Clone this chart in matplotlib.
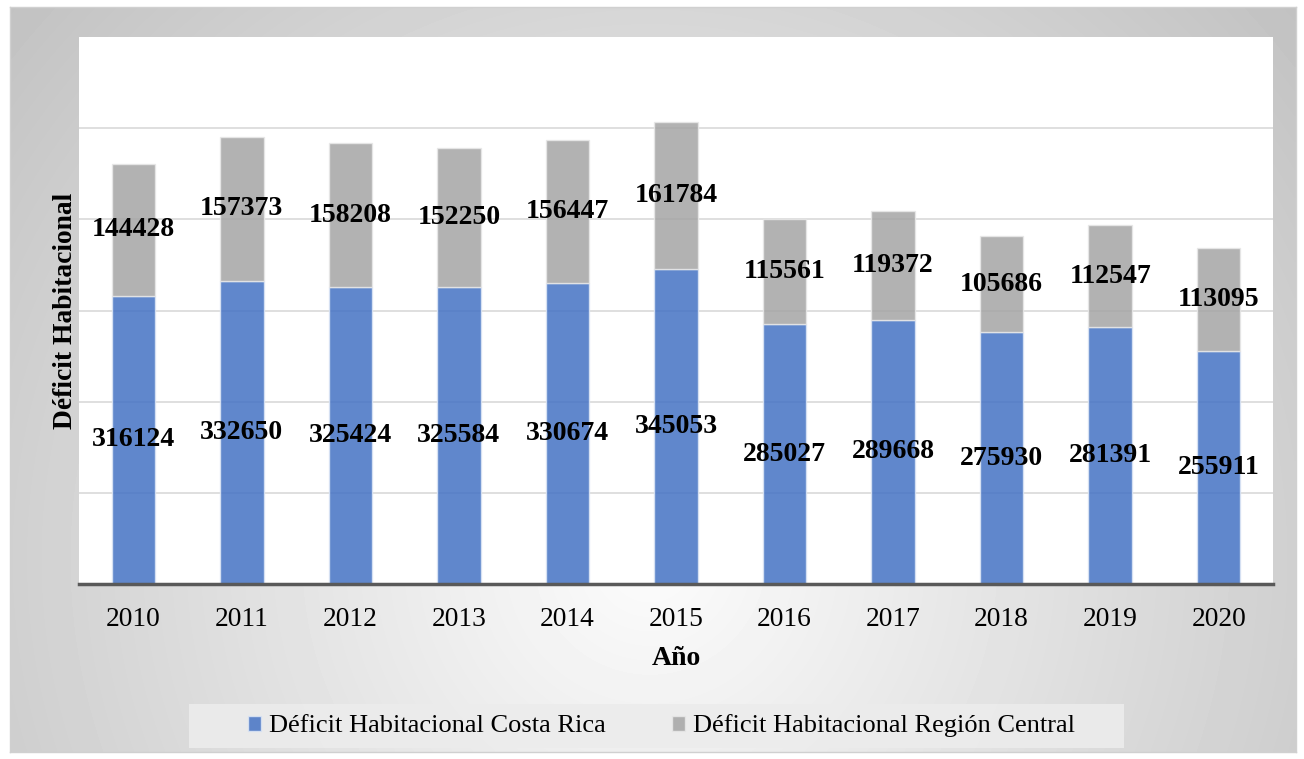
import numpy as np
import matplotlib
matplotlib.use("Agg")
import matplotlib.pyplot as plt
from matplotlib.patches import Rectangle

plt.rcParams["font.family"] = ["Liberation Serif", "DejaVu Serif"]

years = ["2010", "2011", "2012", "2013", "2014", "2015", "2016", "2017", "2018", "2019", "2020"]
costa_rica = [316124, 332650, 325424, 325584, 330674, 345053, 285027, 289668, 275930, 281391, 255911]
region_central = [144428, 157373, 158208, 152250, 156447, 161784, 115561, 119372, 105686, 112547, 113095]

W, H = 1304, 759
fig = plt.figure(figsize=(W / 100, H / 100), dpi=100)
fig.patch.set_facecolor("white")

# gray radial background for the chart box
bg = fig.add_axes([10 / W, 1 - 752 / H, 1286 / W, 745 / H], zorder=-10)
xx, yy = np.meshgrid(np.linspace(10, 1296, 400), np.linspace(7, 752, 240))
d = np.sqrt(((xx - 650) / 700) ** 2 + ((yy - 560) / 700) ** 2)
shade = np.clip(252 - 48 * d, 185, 252) / 255
bg.imshow(shade, cmap="gray", vmin=0, vmax=1, aspect="auto",
          extent=[0, 1, 0, 1], origin="upper", interpolation="bilinear")
bg.set_xlim(0, 1)
bg.set_ylim(0, 1)
bg.set_xticks([])
bg.set_yticks([])
for s in bg.spines.values():
    s.set_color("#d0d0d0")
    s.set_linewidth(1)

# light panel behind the legend
fig.patches.append(Rectangle((189 / W, 1 - 748 / H), 935 / W, 44 / H,
                             transform=fig.transFigure, facecolor="#ececec",
                             edgecolor="none", alpha=0.9, zorder=0))

ax = fig.add_axes([79 / W, 1 - 584 / H, 1194 / W, 547 / H])
ax.set_facecolor("white")

x = np.arange(len(years))
blue = ax.bar(x, costa_rica, width=0.4, color="#4472C4", alpha=0.85,
              edgecolor="#dce6f5", linewidth=1, zorder=2,
              label="Déficit Habitacional Costa Rica")
gray = ax.bar(x, region_central, width=0.4, bottom=costa_rica, color="#A5A5A5",
              alpha=0.85, edgecolor="#e8e8e8", linewidth=1, zorder=2,
              label="Déficit Habitacional Región Central")

ax.bar_label(blue, labels=[str(v) for v in costa_rica], label_type="center",
             fontsize=20, fontweight="bold", color="black", zorder=5)
ax.bar_label(gray, labels=[str(v) for v in region_central], label_type="center",
             fontsize=20, fontweight="bold", color="black", zorder=5)

ax.set_xlim(-0.5, len(years) - 0.5)
ax.set_ylim(0, 600000)
ax.set_yticks(np.arange(0, 600000, 100000))
ax.yaxis.grid(True, color="#d9d9d9", linewidth=1.2, zorder=1)
ax.set_axisbelow(True)
ax.tick_params(axis="y", left=False, labelleft=False)
ax.tick_params(axis="x", bottom=False, labelsize=19.8, pad=13)
ax.set_xticks(x)
ax.set_xticklabels(years)

for side in ["top", "right", "left"]:
    ax.spines[side].set_visible(False)
ax.spines["bottom"].set_color("#595959")
ax.spines["bottom"].set_linewidth(2.5)
ax.spines["bottom"].set_zorder(6)

ax.set_xlabel("Año", fontsize=20, fontweight="bold", labelpad=10)
ax.set_ylabel("Déficit Habitacional", fontsize=19.8, fontweight="bold", labelpad=0.5)

leg = fig.legend(handles=[blue, gray], loc="center",
                 bbox_to_anchor=(661.5 / W, 1 - 726 / H), ncol=2,
                 fontsize=19, frameon=False,
                 handlelength=0.5, handleheight=0.5, handletextpad=0.3,
                 columnspacing=2.5, borderpad=0.35)

fig.savefig("out.png", dpi=100)
